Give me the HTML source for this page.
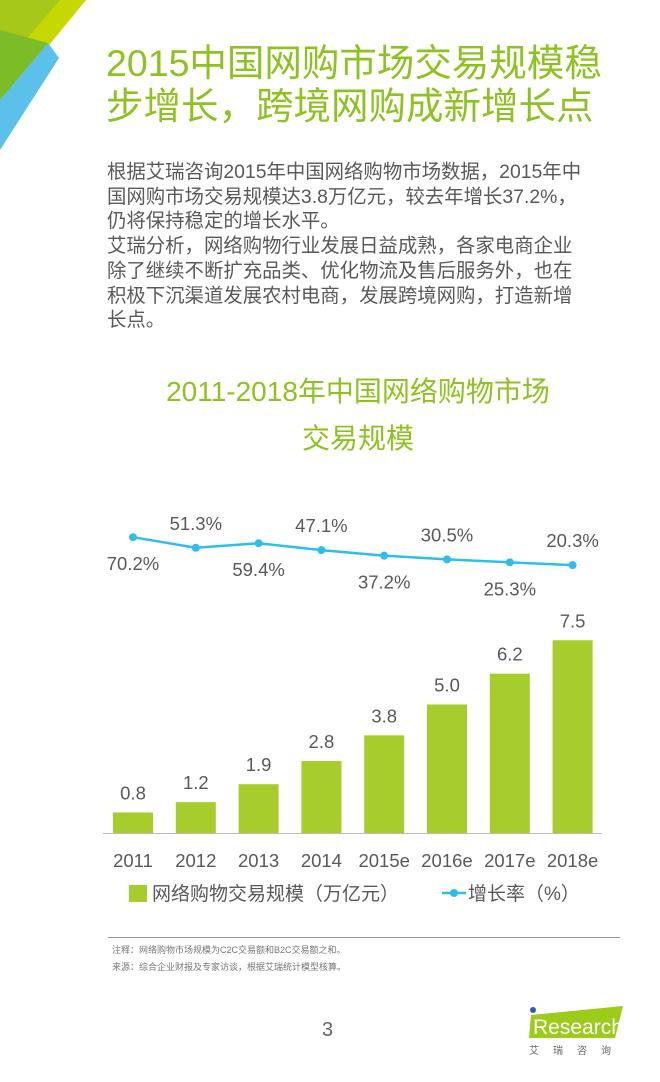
<!DOCTYPE html>
<html><head><meta charset="utf-8"><style>
body{margin:0;width:660px;height:1082px;background:#fff;position:relative;overflow:hidden;font-family:"Liberation Sans","Noto Sans CJK SC",sans-serif}
.abs{position:absolute;white-space:nowrap}
</style></head><body>
<svg class="abs" style="left:0;top:0" width="100" height="160">
<polygon points="0,0 86,0 50,44 0,100" fill="#c6d800"/>
<polygon points="0,0 60,0 0,70" fill="#a5c81a"/>
<polygon points="0,30 48,43 0,100" fill="#7cbc26"/>
<polygon points="48,43 59,58 0,150 0,100" fill="#5bc0ea"/>
</svg>
<div class="abs" style="left:106px;top:42px;font-size:37.5px;line-height:43px;color:#8dc21f">2015中国网购市场交易规模稳<br>步增长，跨境网购成新增长点</div>
<div class="abs" style="left:107px;top:160px;font-size:19.4px;line-height:24.7px;color:#595959">根据艾瑞咨询2015年中国网络购物市场数据，2015年中<br>国网购市场交易规模达3.8万亿元，较去年增长37.2%，<br>仍将保持稳定的增长水平。<br>艾瑞分析，网络购物行业发展日益成熟，各家电商企业<br>除了继续不断扩充品类、优化物流及售后服务外，也在<br>积极下沉渠道发展农村电商，发展跨境网购，打造新增<br>长点。</div>
<div class="abs" style="left:108px;top:368px;width:500px;text-align:center;font-size:28px;line-height:47px;color:#8dc21f">2011-2018年中国网络购物市场<br>交易规模</div>
<svg class="abs" id="chart" style="left:0;top:0" width="660" height="920"></svg>
<div class="abs" style="left:108px;top:937px;width:512px;height:1px;background:#999"></div>
<div class="abs" style="left:112px;top:942px;font-size:9px;line-height:17px;color:#777">注释：网络购物市场规模为C2C交易额和B2C交易额之和。<br>来源：综合企业财报及专家访谈，根据艾瑞统计模型核算。</div>
<div class="abs" style="left:322px;top:1019px;font-size:20px;color:#666">3</div>
<svg class="abs" style="left:525px;top:1000px" width="110" height="60">
<circle cx="8" cy="10" r="3" fill="#2b5ca8"/>
<polygon points="6,15 98,6 90,38 4,38" fill="#9ccb1a"/>
<text x="8" y="34" font-size="21" fill="#fff" font-family="Liberation Sans,sans-serif">Research</text>
<text x="4" y="54" font-size="10" fill="#666" letter-spacing="14" font-family="Noto Sans CJK SC,sans-serif">艾瑞咨询</text>
</svg>
<script>
const categories=["2011","2012","2013","2014","2015e","2016e","2017e","2018e"];
const sizes=[0.8,1.2,1.9,2.8,3.8,5.0,6.2,7.5];
const sizeLabels=["0.8","1.2","1.9","2.8","3.8","5.0","6.2","7.5"];
const growth=[70.2,51.3,59.4,47.1,37.2,30.5,25.3,20.3];
const growthLabels=["70.2%","51.3%","59.4%","47.1%","37.2%","30.5%","25.3%","20.3%"];
const NS="http://www.w3.org/2000/svg";
const svg=document.getElementById('chart');
function xPos(i){return 133+i*62.8;}
function yBar(v){return 833-v*25.7;}
function yLine(v){return 576.5-v*0.56;}
function mk(t,a,txt){const e=document.createElementNS(NS,t);for(const k in a)e.setAttribute(k,a[k]);if(txt!=null)e.textContent=txt;svg.appendChild(e);return e;}
sizes.forEach((v,i)=>{
 const r=mk('rect',{x:xPos(i)-20,y:yBar(v),width:40,height:833-yBar(v),fill:'#a6cd2b'});
 
 
 const t=mk('text',{x:xPos(i),y:yBar(v)-13,'text-anchor':'middle','font-size':18.5,fill:'#595959'},sizeLabels[i]);
 
 
 const c=mk('text',{x:xPos(i),y:867,'text-anchor':'middle','font-size':18.5,fill:'#595959'},categories[i]);
 
 
});
const ax=mk('line',{x1:103,x2:602,y1:833.5,y2:833.5,stroke:'#bbb','stroke-width':1});


const pl=mk('polyline',{points:growth.map((v,i)=>xPos(i)+','+yLine(v)).join(' '),fill:'none',stroke:'#2ebfe8','stroke-width':2.5});


growth.forEach((v,i)=>{
 const c=mk('circle',{cx:xPos(i),cy:yLine(v),r:4,fill:'#2ebfe8'});
 
 
 const y=i%2?yLine(v)-18:yLine(v)+33;
 const t=mk('text',{x:xPos(i),y:y,'text-anchor':'middle','font-size':18.5,fill:'#595959'},growthLabels[i]);
 
 
});
const lr=mk('rect',{x:129,y:885,width:18,height:17,fill:'#a6cd2b'});


const lt=mk('text',{x:152,y:900,'font-size':19,fill:'#595959'},'网络购物交易规模（万亿元）');


const ll=mk('line',{x1:442,x2:466,y1:893,y2:893,stroke:'#2ebfe8','stroke-width':2.5});


const lc=mk('circle',{cx:454,cy:893,r:4,fill:'#2ebfe8'});


const lt2=mk('text',{x:468,y:900,'font-size':19,fill:'#595959'},'增长率（%）');


</script>
</body></html>
